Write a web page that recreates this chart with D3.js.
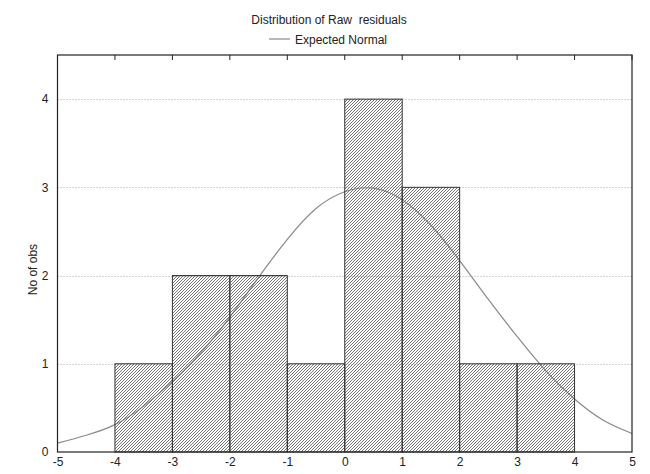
<!DOCTYPE html>
<html>
<head>
<meta charset="utf-8">
<script src="https://cdn.jsdelivr.net/npm/d3@7"></script>
<style>
  html, body { margin: 0; padding: 0; background: #fff; }
  svg { display: block; }
  text { font-family: "Liberation Sans", Arial, sans-serif; fill: #222; }
</style>
</head>
<body>
<svg id="chart" width="650" height="474"></svg>
<script>
// ---- data ----
const binStarts = [-4, -3, -2, -1, 0, 1, 2, 3];
const binEnds   = [-3, -2, -1, 0, 1, 2, 3, 4];
const counts    = [1, 2, 2, 1, 4, 3, 1, 1];

const curveX = [-5, -4.5, -4, -3.5, -3, -2.5, -2, -1.5, -1, -0.5, 0, 0.5, 1, 1.5, 2, 2.5, 3, 3.5, 4, 4.5, 5];
const curveY = [0.10, 0.19, 0.31, 0.52, 0.80, 1.13, 1.53, 1.98, 2.41, 2.76, 2.95, 2.99, 2.86, 2.57, 2.17, 1.73, 1.31, 0.92, 0.60, 0.36, 0.21];

const xTicks = [-5, -4, -3, -2, -1, 0, 1, 2, 3, 4, 5];
const yTicks = [0, 1, 2, 3, 4];

const titleText = "Distribution of Raw  residuals";
const legendText = "Expected Normal";
const yLabel = "No of obs";

// ---- layout ----
const svg = d3.select("#chart");
const L = 57.5, R = 632, T = 55, B = 452;

const x = d3.scaleLinear().domain([-5, 5]).range([L, R]);
const y = d3.scaleLinear().domain([0, 4.5]).range([B, T]);

// hatch pattern ("/" diagonal lines, pixel aligned)
const defs = svg.append("defs");
defs.append("pattern")
  .attr("id", "hatch")
  .attr("patternUnits", "userSpaceOnUse")
  .attr("width", 3).attr("height", 3)
  .append("path")
  .attr("d", "M-1,4 L4,-1 M-1,1 L1,-1 M2,4 L4,2")
  .attr("stroke", "#666").attr("stroke-width", 0.9)
  .attr("fill", "none");

// gridlines
svg.append("g")
  .selectAll("line")
  .data(yTicks.filter(d => d > 0))
  .join("line")
  .attr("x1", L).attr("x2", R)
  .attr("y1", d => Math.round(y(d)) + 0.5).attr("y2", d => Math.round(y(d)) + 0.5)
  .attr("stroke", "#aaa").attr("stroke-width", 1)
  .attr("stroke-dasharray", "1,2");

// expected normal curve (behind bars)
const line = d3.line()
  .x((d, i) => x(curveX[i]))
  .y(d => y(d))
  .curve(d3.curveNatural);
svg.append("path")
  .datum(curveY)
  .attr("d", line)
  .attr("fill", "none")
  .attr("stroke", "#8a8a8a")
  .attr("stroke-width", 1.2);

// bars
svg.append("g")
  .selectAll("rect")
  .data(counts)
  .join("rect")
  .attr("x", (d, i) => x(binStarts[i]))
  .attr("width", (d, i) => x(binEnds[i]) - x(binStarts[i]))
  .attr("y", d => y(d))
  .attr("height", d => B - y(d))
  .attr("fill", "url(#hatch)")
  .attr("stroke", "#333")
  .attr("stroke-width", 1);

// frame
svg.append("rect")
  .attr("x", L).attr("y", T)
  .attr("width", R - L).attr("height", B - T)
  .attr("fill", "none")
  .attr("stroke", "#222")
  .attr("stroke-width", 1.2);

// top ticks (inward)
svg.append("g")
  .selectAll("line")
  .data(xTicks)
  .join("line")
  .attr("x1", d => x(d)).attr("x2", d => x(d))
  .attr("y1", T).attr("y2", T + 5)
  .attr("stroke", "#222");

// bottom axis labels
const xAxis = d3.axisBottom(x).tickValues(xTicks).tickSize(0).tickPadding(5)
  .tickFormat(d => d < 0 ? "-" + Math.abs(d) : String(d));
const gx = svg.append("g").attr("transform", `translate(0,${B})`).call(xAxis);
gx.select(".domain").remove();
gx.selectAll("text").attr("font-size", 12).attr("fill", "#222")
  .style("font-family", "'Liberation Sans', Arial, sans-serif");

// left axis labels
const yAxis = d3.axisLeft(y).tickValues(yTicks).tickSize(0).tickPadding(9)
  .tickFormat(d3.format("d"));
const gy = svg.append("g").attr("transform", `translate(${L},0)`).call(yAxis);
gy.select(".domain").remove();
gy.selectAll("text").attr("font-size", 12).attr("fill", "#222")
  .style("font-family", "'Liberation Sans', Arial, sans-serif");

// y label
svg.append("text")
  .attr("transform", `translate(37,${y(2) - 6}) rotate(-90)`)
  .attr("text-anchor", "middle")
  .attr("font-size", 12)
  .text(yLabel);

// title
svg.append("text")
  .attr("x", 329).attr("y", 24)
  .attr("text-anchor", "middle")
  .attr("font-size", 12)
  .style("white-space", "pre")
  .text(titleText);

// legend
svg.append("line")
  .attr("x1", 269).attr("x2", 290)
  .attr("y1", 39).attr("y2", 39)
  .attr("stroke", "#8a8a8a").attr("stroke-width", 1.2);
svg.append("text")
  .attr("x", 295).attr("y", 43.5)
  .attr("font-size", 12)
  .text(legendText);
</script>
</body>
</html>
